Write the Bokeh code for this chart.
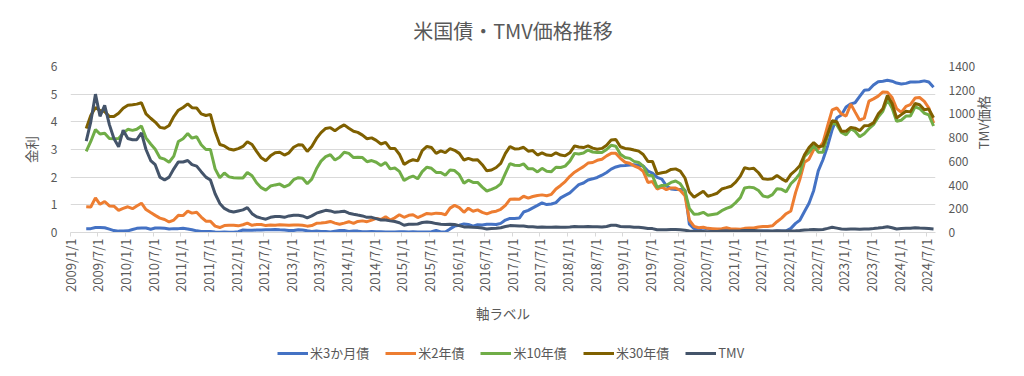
import pandas as pd
from math import pi
from bokeh.plotting import figure
from bokeh.layouts import column
from bokeh.models import (Range1d, LinearAxis, FixedTicker, CustomJSTickFormatter,
                          Legend, LegendItem, Label)
from bokeh.embed import file_html
from bokeh.resources import INLINE

# monthly readings (mid-month), Apr 2009 .. Aug 2024
first_month = "2009-04-01"

t3m = [0.14, 0.14, 0.18, 0.18, 0.17, 0.12, 0.07, 0.05, 0.05,
       0.06, 0.11, 0.15, 0.16, 0.16, 0.12, 0.16, 0.16, 0.15, 0.13, 0.14, 0.14,
       0.15, 0.13, 0.10, 0.06, 0.04, 0.04, 0.04, 0.02, 0.01, 0.02, 0.01, 0.01,
       0.03, 0.09, 0.08, 0.08, 0.09, 0.09, 0.10, 0.10, 0.11, 0.10, 0.09, 0.07,
       0.07, 0.10, 0.09, 0.06, 0.04, 0.05, 0.04, 0.04, 0.02, 0.05, 0.07, 0.07,
       0.04, 0.05, 0.05, 0.03, 0.03, 0.04, 0.03, 0.03, 0.02, 0.02, 0.02, 0.03,
       0.03, 0.02, 0.03, 0.02, 0.02, 0.02, 0.03, 0.07, 0.02, 0.02, 0.13, 0.23,
       0.26, 0.31, 0.29, 0.23, 0.28, 0.27, 0.30, 0.30, 0.29, 0.33, 0.45, 0.51,
       0.51, 0.52, 0.74, 0.80, 0.89, 0.98, 1.07, 1.01, 1.03, 1.08, 1.25, 1.34,
       1.43, 1.59, 1.73, 1.79, 1.90, 1.94, 1.99, 2.07, 2.17, 2.29, 2.37, 2.41,
       2.42, 2.44, 2.45, 2.43, 2.40, 2.22, 2.15, 1.99, 1.93, 1.69, 1.57, 1.55,
       1.55, 1.54, 0.30, 0.14, 0.13, 0.16, 0.13, 0.10, 0.11, 0.10, 0.09, 0.09,
       0.08, 0.04, 0.03, 0.02, 0.02, 0.04, 0.05, 0.05, 0.04, 0.05, 0.05, 0.06,
       0.15, 0.33, 0.44, 0.76, 1.06, 1.52, 2.23, 2.63, 3.13, 3.72, 4.15, 4.25,
       4.54, 4.65, 4.69, 4.92, 5.14, 5.16, 5.33, 5.45, 5.47, 5.50, 5.47, 5.40,
       5.37, 5.39, 5.44, 5.44, 5.45, 5.48, 5.44, 5.25]

t2y = [0.93, 0.92, 1.25, 1.02, 1.12, 0.96, 0.95, 0.80, 0.87,
       0.93, 0.86, 0.96, 1.06, 0.83, 0.72, 0.62, 0.52, 0.47, 0.38, 0.45, 0.62,
       0.61, 0.77, 0.70, 0.73, 0.56, 0.41, 0.41, 0.23, 0.18, 0.25, 0.26, 0.26,
       0.24, 0.28, 0.34, 0.26, 0.29, 0.29, 0.25, 0.27, 0.26, 0.28, 0.27, 0.26,
       0.27, 0.27, 0.26, 0.23, 0.25, 0.33, 0.34, 0.36, 0.40, 0.34, 0.30, 0.34,
       0.39, 0.33, 0.40, 0.42, 0.39, 0.45, 0.51, 0.47, 0.57, 0.45, 0.53, 0.64,
       0.55, 0.62, 0.64, 0.54, 0.61, 0.69, 0.67, 0.70, 0.69, 0.64, 0.88, 0.98,
       0.90, 0.73, 0.88, 0.77, 0.82, 0.73, 0.67, 0.74, 0.77, 0.84, 0.98, 1.20,
       1.21, 1.20, 1.31, 1.24, 1.30, 1.34, 1.36, 1.33, 1.38, 1.57, 1.70, 1.84,
       2.03, 2.18, 2.28, 2.38, 2.51, 2.53, 2.61, 2.65, 2.77, 2.86, 2.86, 2.68,
       2.54, 2.50, 2.41, 2.34, 2.21, 1.81, 1.84, 1.57, 1.65, 1.55, 1.61, 1.61,
       1.52, 1.33, 0.45, 0.22, 0.17, 0.19, 0.15, 0.14, 0.13, 0.14, 0.17, 0.13,
       0.13, 0.12, 0.15, 0.16, 0.16, 0.20, 0.22, 0.22, 0.24, 0.39, 0.52, 0.68,
       0.78, 1.44, 1.91, 2.54, 2.65, 3.00, 3.02, 3.25, 3.86, 4.43, 4.50, 4.29,
       4.21, 4.64, 4.36, 4.06, 4.13, 4.75, 4.83, 4.93, 5.08, 5.07, 4.88, 4.48,
       4.34, 4.56, 4.62, 4.86, 4.88, 4.74, 4.50, 3.95]

t10y = [2.93, 3.29, 3.72, 3.56, 3.59, 3.40, 3.39, 3.40, 3.59,
        3.73, 3.69, 3.73, 3.85, 3.42, 3.20, 3.01, 2.70, 2.65, 2.54, 2.76, 3.29,
        3.39, 3.58, 3.41, 3.46, 3.17, 3.00, 3.00, 2.30, 1.98, 2.15, 2.01, 1.98,
        1.97, 1.97, 2.17, 2.05, 1.80, 1.62, 1.53, 1.68, 1.72, 1.75, 1.65, 1.72,
        1.91, 1.98, 1.96, 1.76, 1.93, 2.30, 2.58, 2.74, 2.81, 2.62, 2.72, 2.90,
        2.86, 2.71, 2.72, 2.71, 2.56, 2.60, 2.54, 2.42, 2.53, 2.30, 2.33, 2.21,
        1.88, 1.98, 2.04, 1.94, 2.20, 2.36, 2.32, 2.17, 2.17, 2.07, 2.26, 2.24,
        2.09, 1.78, 1.89, 1.81, 1.81, 1.64, 1.50, 1.56, 1.63, 1.76, 2.14, 2.49,
        2.43, 2.42, 2.48, 2.30, 2.30, 2.19, 2.32, 2.21, 2.20, 2.36, 2.35, 2.40,
        2.58, 2.86, 2.84, 2.87, 2.98, 2.91, 2.89, 2.89, 3.00, 3.15, 3.12, 2.83,
        2.71, 2.68, 2.57, 2.53, 2.40, 2.07, 2.06, 1.63, 1.70, 1.71, 1.81, 1.86,
        1.76, 1.50, 0.87, 0.66, 0.67, 0.73, 0.62, 0.65, 0.68, 0.79, 0.87, 0.93,
        1.08, 1.26, 1.61, 1.64, 1.62, 1.52, 1.32, 1.28, 1.37, 1.58, 1.56, 1.47,
        1.76, 1.93, 2.13, 2.75, 2.90, 3.14, 2.90, 2.90, 3.52, 3.98, 3.89, 3.62,
        3.53, 3.75, 3.66, 3.46, 3.57, 3.75, 3.90, 4.17, 4.38, 4.80, 4.50, 4.02,
        4.06, 4.21, 4.21, 4.54, 4.48, 4.31, 4.25, 3.85]

t30y = [3.76, 4.23, 4.52, 4.41, 4.37, 4.19, 4.19, 4.31, 4.49,
        4.60, 4.62, 4.64, 4.69, 4.29, 4.13, 3.99, 3.80, 3.77, 3.87, 4.19, 4.42,
        4.52, 4.65, 4.51, 4.50, 4.29, 4.23, 4.27, 3.65, 3.18, 3.13, 3.02, 2.98,
        3.03, 3.11, 3.28, 3.18, 2.93, 2.70, 2.59, 2.77, 2.88, 2.90, 2.80, 2.88,
        3.08, 3.17, 3.16, 2.93, 3.11, 3.40, 3.61, 3.76, 3.79, 3.68, 3.80, 3.89,
        3.77, 3.66, 3.62, 3.52, 3.39, 3.42, 3.33, 3.20, 3.26, 3.04, 3.04, 2.83,
        2.46, 2.57, 2.63, 2.59, 2.96, 3.11, 3.07, 2.86, 2.95, 2.89, 3.03, 2.97,
        2.86, 2.62, 2.68, 2.62, 2.63, 2.45, 2.23, 2.26, 2.35, 2.50, 2.86, 3.11,
        3.02, 3.03, 3.08, 2.94, 2.96, 2.80, 2.88, 2.80, 2.78, 2.88, 2.80, 2.77,
        2.88, 3.13, 3.09, 3.07, 3.13, 3.05, 3.01, 3.04, 3.15, 3.34, 3.36, 3.10,
        3.04, 3.02, 2.98, 2.94, 2.82, 2.57, 2.57, 2.12, 2.16, 2.19, 2.28, 2.30,
        2.22, 1.97, 1.46, 1.27, 1.38, 1.49, 1.31, 1.36, 1.42, 1.57, 1.62, 1.67,
        1.82, 2.04, 2.34, 2.30, 2.32, 2.16, 1.94, 1.92, 1.94, 2.06, 1.94, 1.85,
        2.10, 2.25, 2.41, 2.81, 3.07, 3.25, 3.10, 3.13, 3.56, 4.04, 4.00, 3.66,
        3.66, 3.80, 3.77, 3.68, 3.86, 3.87, 3.96, 4.28, 4.47, 4.95, 4.66, 4.14,
        4.26, 4.38, 4.36, 4.66, 4.62, 4.44, 4.46, 4.15]

tmv = [770, 933, 1167, 980, 1073, 910, 793, 723, 863,
       793, 782, 782, 840, 700, 607, 572, 467, 443, 467, 537, 595,
       595, 607, 572, 560, 513, 467, 443, 327, 245, 203, 182, 173,
       182, 191, 210, 159, 133, 121, 112, 128, 135, 135, 128, 140,
       145, 145, 140, 124, 140, 163, 175, 187, 182, 170, 175, 180,
       163, 154, 147, 140, 128, 128, 117, 105, 105, 98, 93, 82,
       61, 70, 70, 72, 84, 89, 84, 75, 70, 68, 70, 68,
       58, 47, 47, 44, 42, 37, 30, 33, 35, 40, 51, 58,
       56, 54, 54, 49, 49, 44, 47, 44, 44, 47, 44, 44,
       47, 51, 49, 49, 51, 49, 49, 47, 51, 61, 61, 51,
       49, 49, 44, 44, 40, 33, 33, 23, 23, 23, 26, 26,
       23, 19, 12, 9, 9, 9, 7, 9, 9, 12, 12, 12,
       12, 14, 16, 16, 16, 14, 12, 12, 12, 14, 12, 12,
       12, 14, 16, 21, 23, 26, 23, 26, 35, 44, 37, 30,
       28, 30, 30, 28, 30, 30, 33, 37, 42, 49, 40, 30,
       33, 35, 35, 40, 37, 35, 33, 30]

chart_title = "米国債・TMV価格推移"
series_names = ["米3か月債", "米2年債", "米10年債", "米30年債", "TMV"]
series_colors = ["#4472C4", "#ED7D31", "#70AD47", "#7F6000", "#44546A"]
all_series = [t3m, t2y, t10y, t30y, tmv]

left_ticks = [0, 1, 2, 3, 4, 5, 6]
right_ticks = [0, 200, 400, 600, 800, 1000, 1200, 1400]
x_tick_dates = pd.date_range("2009-01-01", "2024-07-01", freq="6MS")

FONT = "Noto Sans CJK JP"
GREY = "#595959"


def month_dates(n):
    return pd.date_range(first_month, periods=n, freq="MS") + pd.Timedelta(days=14)


def strip(h):
    s = figure(width=1024, height=h, output_backend="svg", toolbar_location=None,
               x_range=Range1d(0, 1), y_range=Range1d(0, 1),
               x_axis_location=None, y_axis_location=None, min_border=0)
    s.outline_line_color = None
    s.xgrid.visible = False
    s.ygrid.visible = False
    return s


# title strip
ts = strip(56)
ts.add_layout(Label(x=0.5, y=26, y_units="screen", x_offset=10, text=chart_title,
                    text_align="center", text_baseline="middle", text_font=FONT,
                    text_font_size="20px", text_color=GREY))

p = figure(width=1024, height=274, x_axis_type="datetime",
           x_range=Range1d(pd.Timestamp("2009-01-01"), pd.Timestamp("2024-08-28")),
           y_range=Range1d(0, 6), output_backend="svg", toolbar_location=None,
           min_border_left=70, min_border_right=89, min_border_top=10,
           min_border_bottom=98)
p.extra_y_ranges = {"tmv": Range1d(0, 1400)}
p.outline_line_color = None
p.background_fill_color = "white"
p.border_fill_color = "white"

p.xgrid.grid_line_color = None
p.ygrid.grid_line_color = "#D9D9D9"
p.ygrid.ticker = FixedTicker(ticks=left_ticks)

# x axis
xa = p.xaxis[0]
xa.ticker = FixedTicker(ticks=[d.timestamp() * 1000 for d in x_tick_dates])
xa.formatter = CustomJSTickFormatter(code="""
    const d = new Date(tick);
    return d.getUTCFullYear() + '/' + (d.getUTCMonth() + 1) + '/' + d.getUTCDate();
""")
xa.major_label_orientation = pi / 2
xa.axis_line_color = "#D9D9D9"
xa.major_tick_line_color = "#D9D9D9"
xa.major_tick_out = 4
xa.major_tick_in = 0
xa.minor_tick_line_color = None
xa.major_label_standoff = 2
xa.major_label_text_font = FONT
xa.major_label_text_font_size = "13px"
xa.major_label_text_color = GREY
xa.axis_label = "軸ラベル"
xa.axis_label_text_font = FONT
xa.axis_label_text_font_size = "13.5px"
xa.axis_label_text_font_style = "normal"
xa.axis_label_text_color = GREY
xa.axis_label_standoff = 8

# left axis
ya = p.yaxis[0]
ya.ticker = FixedTicker(ticks=left_ticks)
ya.axis_line_color = None
ya.major_tick_line_color = None
ya.minor_tick_line_color = None
ya.major_tick_out = 0
ya.major_tick_in = 0
ya.major_label_standoff = 13
ya.major_label_text_font = FONT
ya.major_label_text_font_size = "12px"
ya.major_label_text_color = GREY
ya.axis_label = "金利"
ya.axis_label_text_font = FONT
ya.axis_label_text_font_size = "13.5px"
ya.axis_label_text_font_style = "normal"
ya.axis_label_text_color = GREY
ya.axis_label_standoff = 7

# right axis (ticks)
ra = LinearAxis(y_range_name="tmv", ticker=FixedTicker(ticks=right_ticks))
ra.axis_line_color = None
ra.major_tick_line_color = None
ra.minor_tick_line_color = None
ra.major_tick_out = 0
ra.major_tick_in = 0
ra.major_label_standoff = 13
ra.major_label_text_font = FONT
ra.major_label_text_font_size = "12px"
ra.major_label_text_color = GREY
p.add_layout(ra, "right")

# right axis title, read bottom-to-top; bounds shift its anchor so the text is centred
ra2 = LinearAxis(y_range_name="tmv", ticker=FixedTicker(ticks=[]), bounds=(0, 922))
ra2.axis_line_color = None
ra2.major_tick_line_color = None
ra2.minor_tick_line_color = None
ra2.major_tick_out = 0
ra2.major_tick_in = 0
ra2.major_label_standoff = 0
ra2.axis_label = "TMV価格"
ra2.axis_label_text_font = FONT
ra2.axis_label_text_font_size = "13.5px"
ra2.axis_label_text_font_style = "normal"
ra2.axis_label_text_color = GREY
ra2.axis_label_standoff = 4
if hasattr(ra2, "axis_label_orientation"):
    ra2.axis_label_orientation = pi / 2
p.add_layout(ra2, "right")

for vals, color in zip(all_series[:4], series_colors[:4]):
    p.line(month_dates(len(vals)), vals, line_color=color, line_width=3)
p.line(month_dates(len(tmv)), tmv, line_color=series_colors[4], line_width=3,
       y_range_name="tmv")

# legend strip below the chart (its lines fall outside this strip's ranges)
lg = strip(46)
items = []
for name, color, vals in zip(series_names, series_colors, all_series):
    rr = lg.line(month_dates(len(vals)), vals, line_color=color, line_width=3)
    items.append(LegendItem(label=name, renderers=[rr]))
legend = Legend(items=items, orientation="horizontal", location=(207, 14),
                padding=0, margin=0, spacing=16, label_standoff=2,
                glyph_width=31, glyph_height=12,
                border_line_color=None, background_fill_alpha=0,
                label_text_font=FONT, label_text_font_size="13px",
                label_text_color=GREY)
lg.add_layout(legend, "center")

layout = column(ts, p, lg, spacing=0)
open("out.html", "w").write(file_html(layout, INLINE))
